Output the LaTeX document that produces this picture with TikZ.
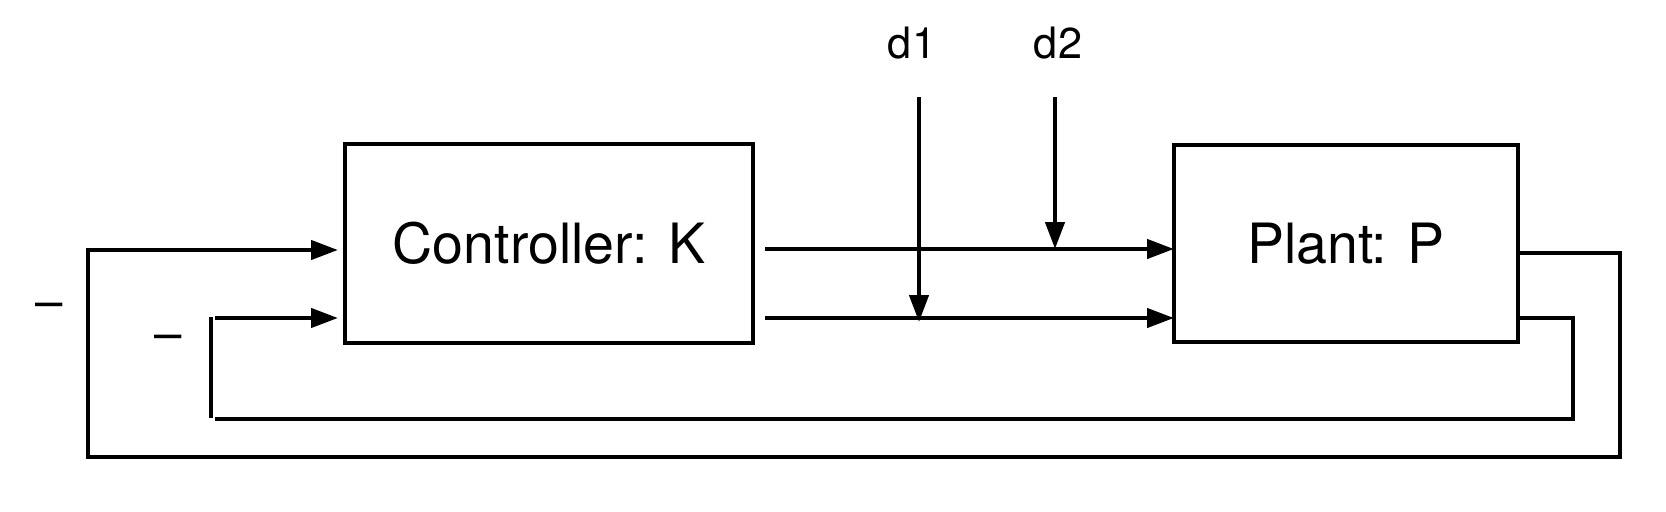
\documentclass[tikz,border=0pt]{standalone}
\usepackage{fontspec}
\setmainfont{TeX Gyre Heros}
\usetikzlibrary{arrows.meta}
\begin{document}
\begin{tikzpicture}[x=1cm, y=-1cm, line width=1.25pt,
    blk/.style={rectangle, draw, inner sep=0pt, outer sep=0pt, font=\fontsize{15.8}{19}\selectfont},
    sig/.style={-{Triangle[length=2.7mm, width=1.9mm]}},
    lbl/.style={font=\fontsize{12.3}{14}\selectfont}]
    \useasboundingbox (0,0) rectangle (16.66,5.11);
    \node[blk, minimum width=4.08cm, minimum height=1.99cm] (ctrl) at (5.49,2.435) {Controller: K};
    \node[blk, minimum width=3.44cm, minimum height=1.97cm] (plant) at (13.46,2.435) {Plant: P};
    \node[lbl] (d1) at (9.12,0.43) {d1};
    \node[lbl] (d2) at (10.58,0.43) {d2};
    \node[lbl, font=\fontsize{14}{16}\selectfont] (m1) at (0.49,3.11) {–};
    \node[lbl, font=\fontsize{14}{16}\selectfont] (m2) at (1.685,3.43) {–};
    \coordinate (u1) at (7.65,2.49);
    \coordinate (u2) at (7.65,3.18);
    \draw[sig] (u1) -- (u1 -| plant.west);
    \draw[sig] (u2) -- (u2 -| plant.west);
    \coordinate (d1s) at (9.19,0.97);
    \coordinate (d2s) at (10.55,0.97);
    \draw[sig] (d1s) -- (9.19,3.22);
    \draw[sig] (d2s) -- (d2s |- u1);
    \coordinate (y1) at (16.20,2.53);
    \coordinate (y2) at (15.73,3.18);
    \coordinate (r1) at (3.38,2.50);
    \coordinate (r2) at (3.38,3.18);
    \draw[sig] (plant.east |- y1) -- (y1) |- (0.88,4.57) |- (r1);
    \draw (plant.east |- y2) -- (y2) |- (2.15,4.19);
    \draw (2.11,3.17) -- (2.11,4.18);
    \draw[sig] (2.15,3.18) -- (r2);
\end{tikzpicture}
\end{document}
